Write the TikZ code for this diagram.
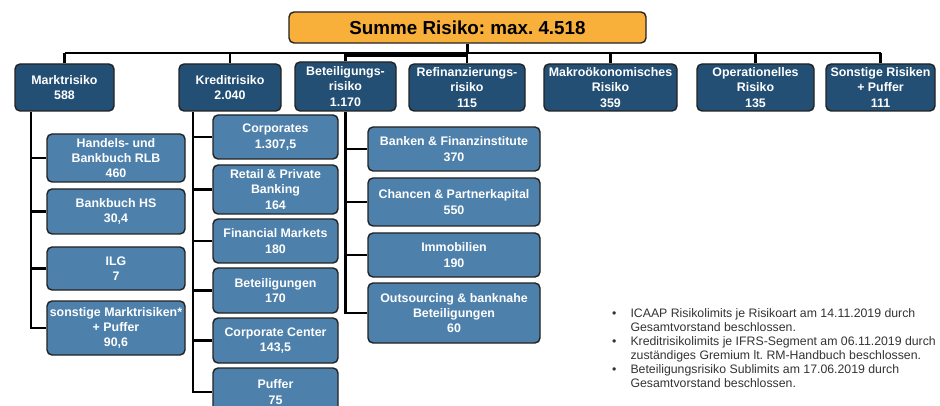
\documentclass[tikz,border=0pt]{standalone}
\usepackage{fontspec}
\setmainfont{Liberation Sans}
\usetikzlibrary{calc}
\frenchspacing
\definecolor{navy}{HTML}{234F74}
\definecolor{steel}{HTML}{4D80AA}
\definecolor{gold}{HTML}{F8B03A}
\definecolor{bordc}{HTML}{222222}
\definecolor{txtg}{HTML}{333333}
\begin{document}
\begin{tikzpicture}[x=1pt,y=-1pt,
  boxbase/.style={draw=bordc, line width=1.4pt, rounded corners=5pt, align=center, inner sep=0pt, text=white,
    font=\bfseries\fontsize{12.4}{15.4}\selectfont},
  topbox/.style={boxbase, fill=gold, text=black, font=\bfseries\fontsize{18.8}{22}\selectfont},
  lvone/.style={boxbase, fill=navy},
  lvtwo/.style={boxbase, fill=steel},
  conn/.style={line width=2.8pt, black}
]
\useasboundingbox (0,0) rectangle (940,406);
\begin{scope}
\clip (0,0) rectangle (940,406);
% top
\node[topbox, minimum width=357pt, minimum height=31pt] (top) at (467.5,27.5) {Summe Risiko: max. 4.518};
% level 1
\node[lvone, minimum width=99pt, minimum height=47pt] (mark) at (64.5,87.5) {Marktrisiko\\588};
\node[lvone, minimum width=102pt, minimum height=47pt] (kred) at (230,87.5) {Kreditrisiko\\2.040};
\node[lvone, minimum width=101pt, minimum height=49pt] (bet) at (345.5,86.5) {Beteiligungs-\\risiko\\1.170};
\node[lvone, minimum width=116pt, minimum height=47pt] (ref) at (467,87.5) {Refinanzierungs-\\risiko\\115};
\node[lvone, minimum width=133pt, minimum height=47pt] (mak) at (610.5,87.5) {Makroökonomisches\\Risiko\\359};
\node[lvone, minimum width=117pt, minimum height=47pt] (op) at (755.5,87.5) {Operationelles\\Risiko\\135};
\node[lvone, minimum width=109pt, minimum height=47pt] (son) at (880.5,87.5) {Sonstige Risiken\\+ Puffer\\111};
% bus
\coordinate (bus) at (0,53);
\draw[conn] (top.south) -- (top.south |- bus);
\draw[conn] (mark.north |- bus) -- (son.north |- bus);
\draw[conn] ($(bet.north |- bus)+(0,2.5)$) -- ($(top.south |- bus)+(0,2.5)$);
\foreach \n in {mark,kred,bet,ref,mak,op,son}{
  \draw[conn] (\n.north) -- (\n.north |- bus);
}
% Markt children
\node[lvtwo, minimum width=138pt, minimum height=48pt] (m1) at (116,158) {Handels- und\\Bankbuch RLB\\460};
\node[lvtwo, minimum width=138pt, minimum height=45pt] (m2) at (116,211.5) {Bankbuch HS\\30,4};
\node[lvtwo, minimum width=138pt, minimum height=43pt] (m3) at (116,268.5) {ILG\\7};
\node[lvtwo, minimum width=138pt, minimum height=54pt] (m4) at (116,328) {sonstige Marktrisiken*\\+ Puffer\\90,6};
\coordinate (mx) at (31,0);
\draw[conn] (mark.south -| mx) |- (m4.west);
\foreach \n in {m1,m2,m3}{\draw[conn] (\n.west -| mx) -- (\n.west);}
% Kredit children
\node[lvtwo, minimum width=125pt, minimum height=44pt] (k1) at (275.5,137) {Corporates\\1.307,5};
\node[lvtwo, minimum width=125pt, minimum height=49pt] (k2) at (275.5,189.5) {Retail \& Private\\Banking\\164};
\node[lvtwo, minimum width=125pt, minimum height=44pt] (k3) at (275.5,241) {Financial Markets\\180};
\node[lvtwo, minimum width=125pt, minimum height=45pt] (k4) at (275.5,290.5) {Beteiligungen\\170};
\node[lvtwo, minimum width=125pt, minimum height=45pt] (k5) at (275.5,340.5) {Corporate Center\\143,5};
\node[lvtwo, minimum width=125pt, minimum height=48pt] (k6) at (275.5,392) {Puffer\\75};
\coordinate (kx) at (193,0);
\draw[conn] (kred.south -| kx) |- (k6.west);
\foreach \n in {k1,k2,k3,k4,k5}{\draw[conn] (\n.west -| kx) -- (\n.west);}
% Beteiligung children
\node[lvtwo, minimum width=172pt, minimum height=44pt] (b1) at (454,149) {Banken \& Finanzinstitute\\370};
\node[lvtwo, minimum width=172pt, minimum height=48pt] (b2) at (454,202) {Chancen \& Partnerkapital\\550};
\node[lvtwo, minimum width=172pt, minimum height=44pt] (b3) at (454,255) {Immobilien\\190};
\node[lvtwo, minimum width=172pt, minimum height=60pt] (b4) at (454,313) {Outsourcing \& banknahe\\Beteiligungen\\60};
\draw[conn] (bet.south) |- (b4.west);
\foreach \n in {b1,b2,b3}{\draw[conn] (\n.west -| bet.south) -- (\n.west);}
% notes
\node[anchor=north west, inner sep=0pt, text=txtg, font=\fontsize{12.3}{13.9}\selectfont] (notes) at (612,308) {%
\begin{tabular}{@{}l@{\hspace{14pt}}l@{}}
\textbullet & ICAAP Risikolimits je Risikoart am 14.11.2019 durch\\
 & Gesamtvorstand beschlossen.\\
\textbullet & Kreditrisikolimits je IFRS-Segment am 06.11.2019 durch\\
 & zuständiges Gremium lt. RM-Handbuch beschlossen.\\
\textbullet & Beteiligungsrisiko Sublimits am 17.06.2019 durch\\
 & Gesamtvorstand beschlossen.
\end{tabular}};
\end{scope}
\end{tikzpicture}
\end{document}
